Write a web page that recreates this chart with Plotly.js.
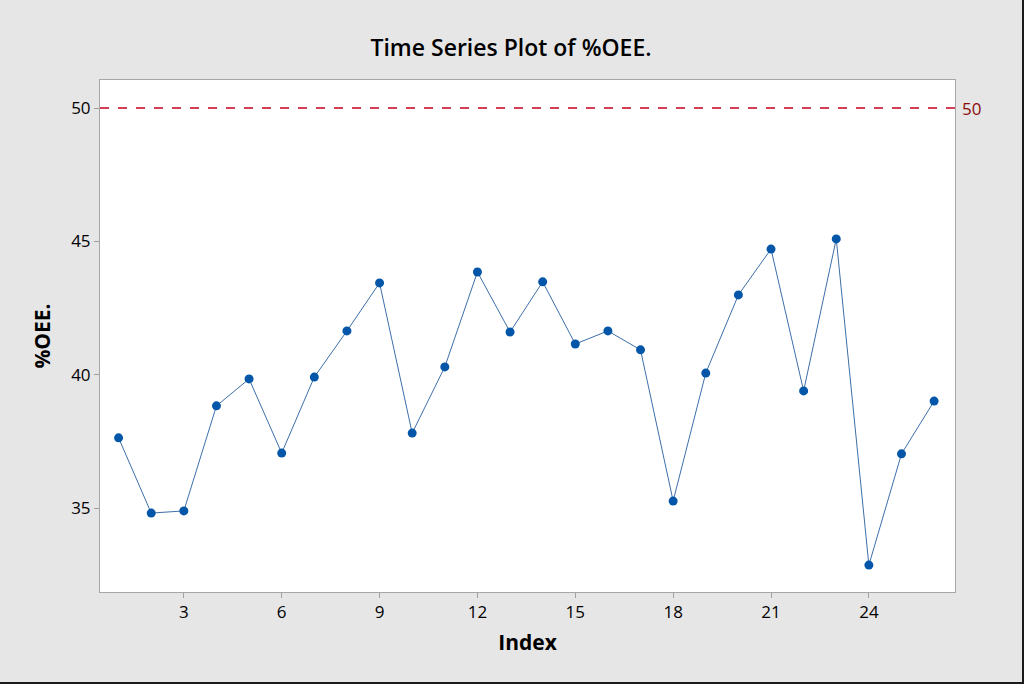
<!DOCTYPE html>
<html>
<head>
<meta charset="utf-8">
<script src="https://cdn.plot.ly/plotly-3.0.1.min.js"></script>
<style>
  html, body { margin: 0; padding: 0; background: #e6e6e6; }
  #chart { width: 1022px; height: 682px; border-right: 2px solid #1a1a1a; border-bottom: 2px solid #1a1a1a; }
</style>
</head>
<body>
<div id="chart"></div>
<script>
var chartDiv = document.getElementById('chart');

var config = {responsive: false, displayModeBar: false}

// Index 1..26
var index = [1,2,3,4,5,6,7,8,9,10,11,12,13,14,15,16,17,18,19,20,21,22,23,24,25,26]

// %OEE values
var oee = [37.63,34.81,34.89,38.83,39.84,37.06,39.91,41.64,43.44,37.81,
           40.29,43.85,41.60,43.48,41.15,41.64,40.93,35.26,40.06,42.99,
           44.71,39.39,45.09,32.86,37.03,39.01]

// reference line value
var refValue = 50

var xTicks = [3,6,9,12,15,18,21,24]
var yTicks = [35,40,45,50]

var series = {
  type: 'scatter',
  x: index,
  y: oee,
  mode: 'lines+markers',
  name: '%OEE.',
  showlegend: false,
  line: {color: '#3d6fa8', width: 1},
  marker: {color: '#0456a8', size: 9, symbol: 'circle'}
}

var data = [series]

var layout = {
  width: 1022,
  height: 682,
  paper_bgcolor: '#e6e6e6',
  plot_bgcolor: '#ffffff',
  font: {family: 'Open Sans, Noto Sans, sans-serif', color: '#000000'},
  margin: {l: 100, r: 67, t: 80, b: 90},
  title: {
    text: 'Time Series Plot of %OEE.',
    font: {size: 23, color: '#000000', weight: 600},
    x: 0.5,
    xanchor: 'center',
    y: 0.93,
    yanchor: 'middle'
  },
  xaxis: {
    range: [0.43, 26.64],
    tickvals: xTicks,
    ticks: 'outside',
    ticklen: 5,
    tickcolor: '#a0a0a0',
    tickfont: {size: 17},
    showgrid: false,
    zeroline: false,
    showline: true,
    linecolor: '#a6a6a6',
    linewidth: 1,
    mirror: true,
    title: {text: '<b>Index</b>', font: {size: 21}, standoff: 12}
  },
  yaxis: {
    range: [31.85, 51.05],
    tickvals: yTicks,
    ticks: 'outside',
    ticklen: 5,
    tickcolor: '#a0a0a0',
    tickfont: {size: 17},
    showgrid: false,
    zeroline: false,
    showline: true,
    linecolor: '#a6a6a6',
    linewidth: 1,
    mirror: true,
    title: {text: '<b>%OEE.</b>', font: {size: 21}, standoff: 14}
  },
  shapes: [
    {
      type: 'line', xref: 'paper', yref: 'y',
      x0: 0, x1: 1, y0: refValue, y1: refValue,
      line: {color: '#c8001e', width: 1.3, dash: 'dash'}
    }
  ],
  annotations: [
    {
      xref: 'paper', yref: 'y',
      x: 1.006, y: refValue,
      xanchor: 'left', yanchor: 'middle',
      text: String(refValue),
      showarrow: false,
      font: {size: 17, color: '#8b0a0a'}
    }
  ]
}

Plotly.newPlot(chartDiv, data, layout, config);
</script>
</body>
</html>
